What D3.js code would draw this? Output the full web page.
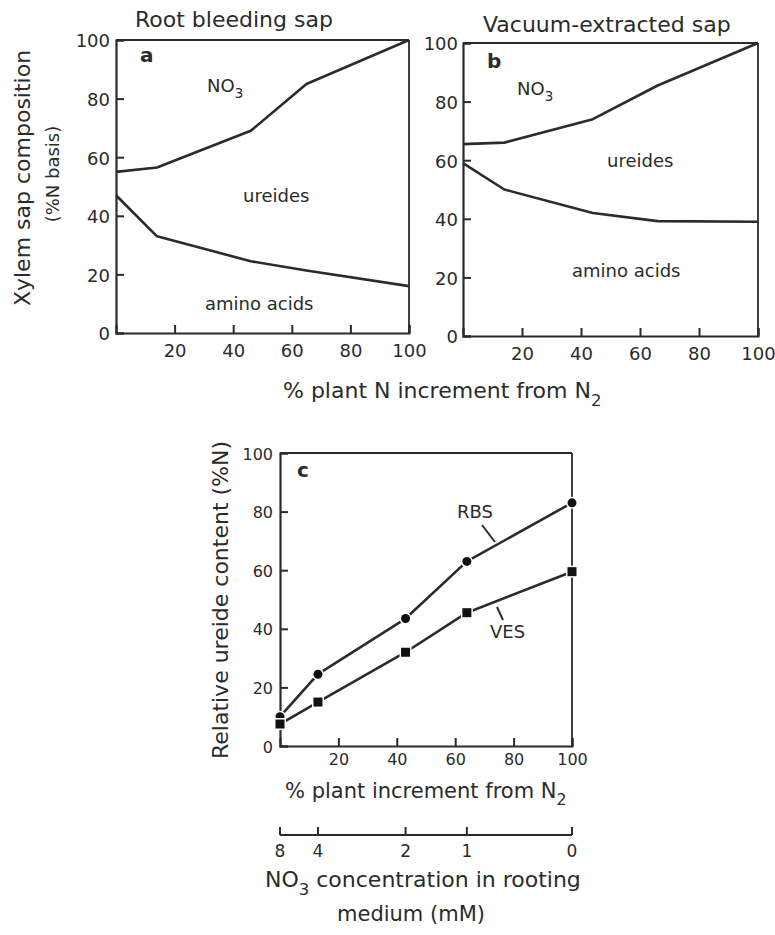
<!DOCTYPE html>
<html><head><meta charset="utf-8">
<script src="https://cdn.jsdelivr.net/npm/d3@7"></script>
<style>body{margin:0;background:#fff}svg{display:block}text{font-family:"DejaVu Sans",sans-serif;fill:#2b2b2b}</style>
</head><body>
<svg id="c" width="775" height="935"></svg>
<script>
// ---- data ----
const xA = [0, 14, 46, 65, 100];
const aNO3 = [55, 56.5, 69, 85, 100];
const aAmino = [47, 33, 24.5, 21.3, 16];
const xB = [0, 14, 44, 66, 100];
const bNO3 = [65.5, 66, 74, 85.5, 100];
const bAmino = [59, 50, 42, 39.2, 39];
const xC = [0, 13, 43, 64, 100];
const rbs = [10, 24.5, 43.5, 63, 83];
const ves = [7.5, 15, 32, 45.5, 59.5];
const concLabels = ["8", "4", "2", "1", "0"];
const yTicks = [0, 20, 40, 60, 80, 100];
const xTicks = [20, 40, 60, 80, 100];

const ink = "#2b2b2b";
const svg = d3.select("#c");

function panel(box) {
  const x = d3.scaleLinear().domain([0, 100]).range([box.x0, box.x1]);
  const y = d3.scaleLinear().domain([0, 100]).range([box.y0, box.y1]);
  const g = svg.append("g");
  const ya = g.append("g").attr("transform", `translate(${box.x0},0)`)
    .call(d3.axisLeft(y).tickValues(yTicks).tickSize(-8).tickPadding(box.yPad).tickFormat(d3.format("d")));
  const xa = g.append("g").attr("transform", `translate(0,${box.y0})`)
    .call(d3.axisBottom(x).tickValues(xTicks).tickSize(-8).tickPadding(box.xPad).tickFormat(d3.format("d")));
  [ya, xa].forEach(a => {
    a.select(".domain").attr("stroke", ink).attr("stroke-width", 2.2);
    a.selectAll(".tick line").attr("stroke", ink).attr("stroke-width", 2);
    a.selectAll("text").attr("font-size", box.fs).attr("fill", ink)
      .attr("font-family", '"DejaVu Sans",sans-serif');
  });
  ya.selectAll("text").attr("dy", "0.38em");
  g.append("line").attr("x1", box.x0).attr("x2", box.x1).attr("y1", box.y1).attr("y2", box.y1)
    .attr("stroke", ink).attr("stroke-width", 1.8);
  g.append("line").attr("x1", box.x1).attr("x2", box.x1).attr("y1", box.y1).attr("y2", box.y0)
    .attr("stroke", ink).attr("stroke-width", 1.8);
  return {x, y, g};
}

function curve(p, xs, ys) {
  const line = d3.line().x((d, i) => p.x(xs[i])).y(d => p.y(d));
  p.g.append("path").attr("d", line(ys)).attr("fill", "none")
    .attr("stroke", ink).attr("stroke-width", 2.6).attr("stroke-linejoin", "round");
}

function label(x, y, txt, size, sub, weight, anchor) {
  const t = svg.append("text").attr("x", x).attr("y", y).attr("font-size", size)
    .attr("text-anchor", anchor || "middle").attr("font-weight", weight || "normal");
  t.append("tspan").text(txt);
  if (sub) t.append("tspan").attr("dy", size * 0.35).attr("font-size", size * 0.75).text(sub);
  return t;
}

// ---- panel a ----
const pa = panel({x0: 116, x1: 409, y0: 333, y1: 40, fs: 18, yPad: 6, xPad: 11});
curve(pa, xA, aNO3);
curve(pa, xA, aAmino);
label(135, 27, "Root bleeding sap", 22, null, null, "start");
label(140, 62, "a", 20, null, "bold", "start");
label(207, 92, "NO", 18, "3", null, "start");
label(243, 202, "ureides", 18, null, null, "start");
label(205, 310, "amino acids", 18, null, null, "start");

// ---- panel b ----
const pb = panel({x0: 463, x1: 758, y0: 336, y1: 43, fs: 18, yPad: 5, xPad: 11});
curve(pb, xB, bNO3);
curve(pb, xB, bAmino);
label(483, 32, "Vacuum-extracted sap", 22, null, null, "start");
label(487, 68, "b", 20, null, "bold", "start");
label(517, 95, "NO", 18, "3", null, "start");
label(607, 167, "ureides", 18, null, null, "start");
label(572, 277, "amino acids", 18, null, null, "start");

// shared labels
svg.append("text").attr("transform", "translate(30,178) rotate(-90)").attr("text-anchor", "middle")
  .attr("font-size", 22).text("Xylem sap composition");
svg.append("text").attr("transform", "translate(59,174) rotate(-90)").attr("text-anchor", "middle")
  .attr("font-size", 18).text("(%N basis)");
label(283, 398, "% plant N increment from N", 22, "2", null, "start");

// ---- panel c ----
const pc = panel({x0: 280, x1: 572, y0: 746, y1: 453, fs: 16, yPad: 7, xPad: 8});
curve(pc, xC, rbs);
curve(pc, xC, ves);
pc.g.selectAll("circle.r").data(rbs).join("circle")
  .attr("cx", (d, i) => pc.x(xC[i])).attr("cy", d => pc.y(d)).attr("r", 4.5)
  .attr("fill", "#111").attr("stroke", "#fff").attr("stroke-width", 3).attr("paint-order", "stroke");
pc.g.selectAll("rect.v").data(ves).join("rect")
  .attr("x", (d, i) => pc.x(xC[i]) - 4.5).attr("y", d => pc.y(d) - 4.5)
  .attr("width", 9).attr("height", 9)
  .attr("fill", "#111").attr("stroke", "#fff").attr("stroke-width", 3).attr("paint-order", "stroke");
label(297, 477, "c", 20, null, "bold", "start");
label(457, 518, "RBS", 18, null, null, "start");
label(490, 638, "VES", 18, null, null, "start");
svg.append("line").attr("x1", 482).attr("y1", 525).attr("x2", 495).attr("y2", 542)
  .attr("stroke", ink).attr("stroke-width", 2);
svg.append("line").attr("x1", 503).attr("y1", 620).attr("x2", 497).attr("y2", 607)
  .attr("stroke", ink).attr("stroke-width", 2);
svg.append("text").attr("transform", "translate(228,600) rotate(-90)").attr("text-anchor", "middle")
  .attr("font-size", 22).text("Relative ureide content (%N)");
label(285, 798, "% plant increment from N", 21, "2", null, "start");

// secondary concentration axis
const conc = svg.append("g").attr("transform", "translate(0,835)");
conc.append("line").attr("x1", pc.x(0)).attr("x2", pc.x(100)).attr("y1", 0).attr("y2", 0)
  .attr("stroke", ink).attr("stroke-width", 2.2);
conc.selectAll("line.t").data(xC).join("line")
  .attr("x1", d => pc.x(d)).attr("x2", d => pc.x(d)).attr("y1", 0).attr("y2", -8)
  .attr("stroke", ink).attr("stroke-width", 2);
conc.selectAll("text").data(concLabels).join("text")
  .attr("x", (d, i) => pc.x(xC[i])).attr("y", 22).attr("text-anchor", "middle")
  .attr("font-size", 17).text(d => d);
label(265, 887, "NO", 22, "3", null, "start").append("tspan").attr("dy", -22 * 0.35).attr("font-size", 22).text(" concentration in rooting");
label(411, 921, "medium (mM)", 21);
</script>
</body></html>
